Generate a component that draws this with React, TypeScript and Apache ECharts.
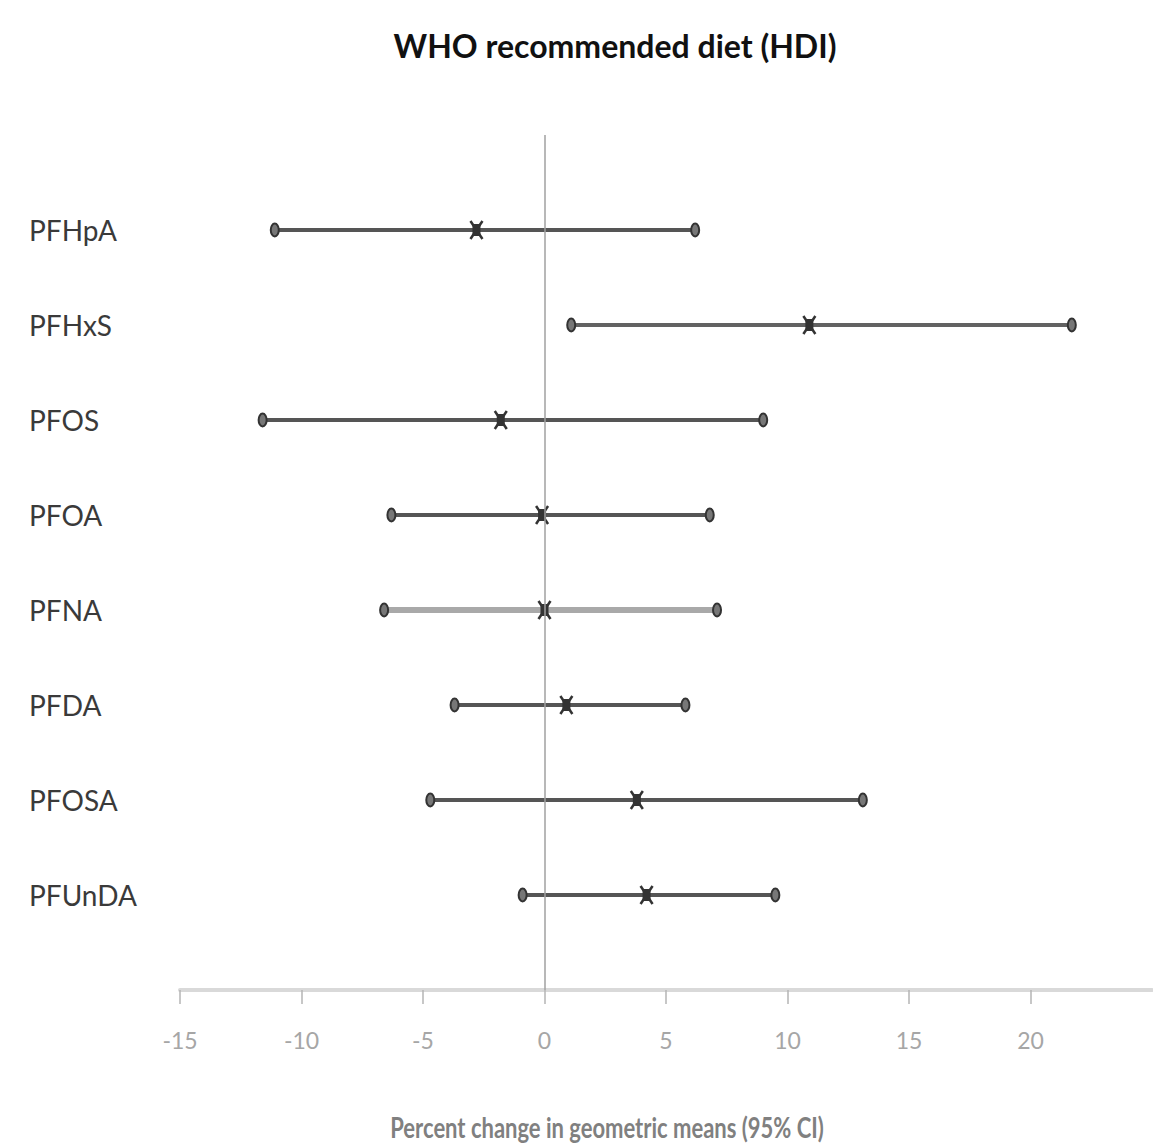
import React, { useEffect, useRef } from "react";
import * as echarts from "echarts";

const categories = ["PFHpA", "PFHxS", "PFOS", "PFOA", "PFNA", "PFDA", "PFOSA", "PFUnDA"];
const lowerCI = [-11.1, 1.1, -11.6, -6.3, -6.6, -3.7, -4.7, -0.9];
const estimate = [-2.8, 10.9, -1.8, -0.1, 0.0, 0.9, 3.8, 4.2];
const upperCI = [6.2, 21.7, 9.0, 6.8, 7.1, 5.8, 13.1, 9.5];
const xTicks = [-15, -10, -5, 0, 5, 10, 15, 20, 25];

const titleText = "WHO recommended diet (HDI)";
const xAxisName = "Percent change in geometric means (95% CI)";

// styles kept separate from data
const lineColors = ["#555", "#626262", "#555", "#555", "#a9a9a9", "#555", "#555", "#555"];
const lineWidths = [4, 4, 4, 4, 6, 4, 4, 4];

const FONT = "Lato, 'Open Sans', 'Liberation Sans', sans-serif";

export default function App() {
  const ref = useRef<HTMLDivElement>(null);
  useEffect(() => {
    document.body.style.margin = "0";
    const chart = echarts.init(ref.current!, null, { renderer: "svg" });
    const data = categories.map((_, i) => [i + 1, lowerCI[i], estimate[i], upperCI[i]]);
    chart.setOption({
      animation: false,
      backgroundColor: "#ffffff",
      title: {
        text: titleText,
        left: 610,
        top: 24,
        textAlign: "center",
        textStyle: { fontFamily: FONT, fontSize: 32, fontWeight: "bold", color: "#111" },
      },
      grid: { left: 180, right: 1, top: 135, bottom: 157, containLabel: false },
      xAxis: {
        type: "value",
        min: xTicks[0],
        max: xTicks[xTicks.length - 1],
        interval: 5,
        axisLine: { show: true, onZero: false, lineStyle: { color: "#d9d9d9", width: 4 } },
        axisTick: { show: true, length: 14, lineStyle: { color: "#b5b5b5", width: 1.5 } },
        axisLabel: {
          margin: 38,
          fontFamily: FONT,
          fontSize: 23,
          color: "#a6a6a6",
          showMaxLabel: false,
        },
        splitLine: { show: false },
      },
      yAxis: {
        type: "value",
        min: 0,
        max: categories.length + 1,
        interval: 1,
        inverse: true,
        axisLine: { show: false },
        axisTick: { show: false },
        splitLine: { show: false },
        axisLabel: {
          align: "left",
          margin: 151,
          fontFamily: FONT,
          fontSize: 28,
          color: "#3a3a3a",
          formatter: (v: number) => (v >= 1 && v <= categories.length ? categories[v - 1] : ""),
        },
      },
      graphic: [
        {
          type: "text",
          x: 607,
          y: 1127,
          scaleY: 1.3,
          style: {
            text: xAxisName,
            align: "center",
            verticalAlign: "middle",
            font: `bold 22px ${FONT}`,
            fill: "#808080",
          },
        },
      ],
      series: [
        {
          type: "line",
          data: [],
          z: 1,
          markLine: {
            silent: true,
            symbol: "none",
            label: { show: false },
            lineStyle: { color: "#a0a0a0", width: 1.5, type: "solid" },
            data: [{ xAxis: 0 }],
          },
        },
        {
          type: "custom",
          z: 3,
          data,
          encode: { x: [1, 2, 3], y: 0 },
          renderItem: (params: any, api: any) => {
            const idx = params.dataIndex;
            const y = api.value(0);
            const pL = api.coord([api.value(1), y]);
            const pE = api.coord([api.value(2), y]);
            const pH = api.coord([api.value(3), y]);
            const color = lineColors[idx];
            const lw = lineWidths[idx];
            return {
              type: "group",
              children: [
                {
                  type: "line",
                  shape: { x1: pL[0], y1: pL[1], x2: pH[0], y2: pH[1] },
                  style: { stroke: color, lineWidth: lw },
                },
                {
                  type: "ellipse",
                  shape: { cx: pL[0], cy: pL[1], rx: 4, ry: 6.5 },
                  style: { fill: "#777", stroke: "#333", lineWidth: 2 },
                },
                {
                  type: "ellipse",
                  shape: { cx: pH[0], cy: pH[1], rx: 4, ry: 6.5 },
                  style: { fill: "#777", stroke: "#333", lineWidth: 2 },
                },
                {
                  type: "line",
                  shape: { x1: pE[0] - 6, y1: pE[1] - 9, x2: pE[0] + 6, y2: pE[1] + 9 },
                  style: { stroke: "#333", lineWidth: 2.5 },
                },
                {
                  type: "line",
                  shape: { x1: pE[0] + 6, y1: pE[1] - 9, x2: pE[0] - 6, y2: pE[1] + 9 },
                  style: { stroke: "#333", lineWidth: 2.5 },
                },
                {
                  type: "rect",
                  shape: { x: pE[0] - 4, y: pE[1] - 6, width: 8, height: 12 },
                  style: { fill: "#333" },
                },
              ],
            };
          },
        },
      ],
    });
    return () => chart.dispose();
  }, []);
  return <div ref={ref} style={{ width: 1153, height: 1147 }} />;
}
